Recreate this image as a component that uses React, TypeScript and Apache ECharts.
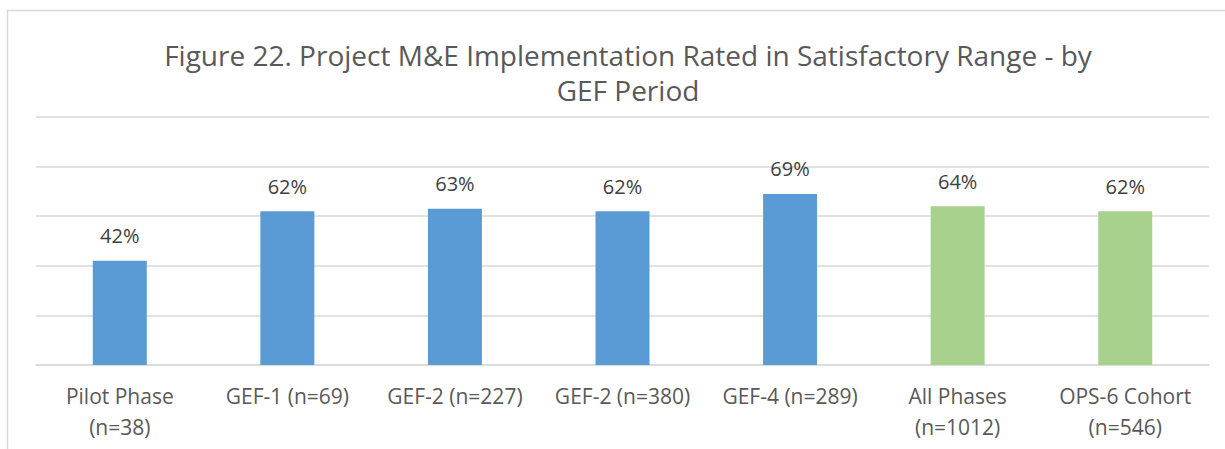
import React, { useEffect, useRef } from "react";
import * as echarts from "echarts";

const categories = [
  "Pilot Phase\n(n=38)",
  "GEF-1 (n=69)",
  "GEF-2 (n=227)",
  "GEF-2 (n=380)",
  "GEF-4 (n=289)",
  "All Phases\n(n=1012)",
  "OPS-6 Cohort\n(n=546)",
];
const values = [42, 62, 63, 62, 69, 64, 62];
const barColors = ["#5B9BD5", "#5B9BD5", "#5B9BD5", "#5B9BD5", "#5B9BD5", "#A9D18E", "#A9D18E"];
const titleText = "Figure 22. Project M&E Implementation Rated in Satisfactory Range - by\nGEF Period";

export default function App() {
  const ref = useRef<HTMLDivElement>(null);
  useEffect(() => {
    const chart = echarts.init(ref.current!, undefined, { renderer: "svg" });
    chart.setOption({
      animation: false,
      backgroundColor: "#ffffff",
      textStyle: { fontFamily: "Open Sans" },
      graphic: [
        {
          type: "rect",
          shape: { x: 7.5, y: 10.5, width: 1300, height: 500 },
          style: { fill: "none", stroke: "#D9D9D9", lineWidth: 1.5 },
          silent: true,
        },
      ],
      title: {
        text: titleText,
        left: 623,
        top: 32,
        textAlign: "center",
        textStyle: {
          fontFamily: "Open Sans",
          fontSize: 28,
          fontWeight: "normal",
          color: "#595959",
          lineHeight: 35,
        },
      },
      grid: { left: 36, right: 16, top: 117, bottom: 84, containLabel: false },
      xAxis: {
        type: "category",
        data: categories,
        axisLine: { lineStyle: { color: "#D9D9D9", width: 1.5 } },
        axisTick: { show: false },
        axisLabel: {
          color: "#595959",
          fontSize: 21,
          lineHeight: 31,
          margin: 15,
          interval: 0,
          fontFamily: "Open Sans",
        },
      },
      yAxis: {
        type: "value",
        min: 0,
        max: 100,
        interval: 20,
        axisLabel: { show: false },
        axisLine: { show: false },
        axisTick: { show: false },
        splitLine: { lineStyle: { color: "#D9D9D9", width: 1.5 } },
      },
      series: [
        {
          type: "bar",
          barWidth: 54,
          data: values.map((v, i) => ({ value: v, itemStyle: { color: barColors[i] } })),
          label: {
            show: true,
            position: "top",
            distance: 15,
            formatter: "{c}%",
            color: "#404040",
            fontSize: 20,
            fontFamily: "Open Sans",
          },
        },
      ],
    });
    return () => chart.dispose();
  }, []);
  return (
    <div
      ref={ref}
      style={{ position: "absolute", left: 0, top: 0, width: 1225, height: 449 }}
    />
  );
}
